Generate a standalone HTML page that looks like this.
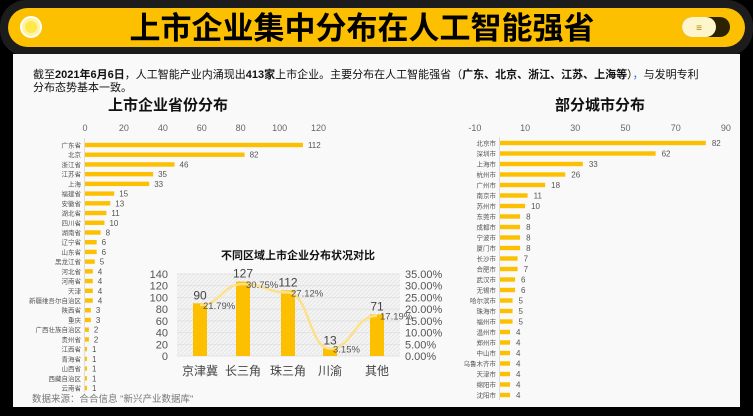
<!DOCTYPE html>
<html><head><meta charset="utf-8"><style>
html,body{margin:0;padding:0;background:#000;}
svg{display:block;font-family:"Liberation Sans","Noto Sans CJK SC",sans-serif;}
</style></head><body>
<svg id="s" width="753" height="416" viewBox="0 0 753 416" xmlns="http://www.w3.org/2000/svg">
<rect width="753" height="416" fill="#000"/>
<rect x="0" y="0" width="753" height="56" rx="26" fill="#1c1c1c"/>
<rect x="8" y="8" width="737" height="39" rx="19.5" fill="#fcc000"/>
<circle cx="31" cy="27" r="10" fill="#fff3a0" stroke="#fff" stroke-width="2"/>
<circle cx="31" cy="27" r="6" fill="#ffe84a"/>
<rect x="682" y="17" width="48" height="20" rx="10" fill="#2a2200"/>
<rect x="682" y="17" width="34" height="20" rx="10" fill="#fff5cc"/>
<text x="699" y="31" font-size="10" fill="#a88a00" text-anchor="middle">≡</text>
<text x="362" y="39" font-size="31" font-weight="bold" text-anchor="middle" fill="#000">上市企业集中分布在人工智能强省</text>
<rect x="13" y="54" width="727" height="353" fill="#f9f9f9"/>
<text x="33" y="78" font-size="11" fill="#111">截至<tspan font-weight="bold">2021年6月6日</tspan>，人工智能产业内涌现出<tspan font-weight="bold">413家</tspan>上市企业。主要分布在人工智能强省（<tspan font-weight="bold">广东、北京、浙江、江苏、上海等</tspan>）<tspan fill="#3b6fd8">，</tspan>与发明专利</text>
<text x="33" y="91" font-size="11" fill="#111">分布态势基本一致。</text>
<text x="168" y="110" font-size="15" font-weight="bold" text-anchor="middle" fill="#111">上市企业省份分布</text>
<text x="600" y="110" font-size="15" font-weight="bold" text-anchor="middle" fill="#111">部分城市分布</text>
<text x="32" y="402" font-size="9.5" fill="#777">数据来源：合合信息 "新兴产业数据库"</text>
<g id="g"></g>
</svg>
<script>
var g=document.getElementById('g'),h='';
function t(x,y,s,sz,a,c,w){h+='<text x="'+x+'" y="'+y+'" font-size="'+sz+'" text-anchor="'+(a||'start')+'" fill="'+(c||'#555')+'"'+(w?' font-weight="bold"':'')+'>'+s+'</text>';}
// left chart
var L=[["广东省",112],["北京",82],["浙江省",46],["江苏省",35],["上海",33],["福建省",15],["安徽省",13],["湖北省",11],["四川省",10],["湖南省",8],["辽宁省",6],["山东省",6],["黑龙江省",5],["河北省",4],["河南省",4],["天津",4],["新疆维吾尔自治区",4],["陕西省",3],["重庆",3],["广西壮族自治区",2],["贵州省",2],["江西省",1],["青海省",1],["山西省",1],["西藏自治区",1],["云南省",1]];
var x0=85,k=1.946;
for(var i=0;i<=6;i++)t(x0+i*20*k,131,i*20,9,'middle','#666');
h+='<line x1="84.5" y1="138" x2="84.5" y2="392" stroke="#ddd"/>';
L.forEach(function(d,i){var y=145+i*9.72;h+='<rect x="'+x0+'" y="'+(y-2.2)+'" width="'+(d[1]*k)+'" height="4.4" fill="#fcc000"/>';t(81,y+2.5,d[0],6.5,'end','#555');t(x0+d[1]*k+5,y+3,d[1],8,'start','#555');});
// right chart
var R=[["北京市",82],["深圳市",62],["上海市",33],["杭州市",26],["广州市",18],["南京市",11],["苏州市",10],["东莞市",8],["成都市",8],["宁波市",8],["厦门市",8],["长沙市",7],["合肥市",7],["武汉市",6],["无锡市",6],["哈尔滨市",5],["珠海市",5],["福州市",5],["温州市",4],["郑州市",4],["中山市",4],["乌鲁木齐市",4],["天津市",4],["绵阳市",4],["沈阳市",4]];
var r0=500,rk=2.51;
[-10,10,30,50,70,90].forEach(function(v){t(r0+v*rk,131,v,9,'middle','#666');});
h+='<line x1="499.5" y1="137" x2="499.5" y2="400" stroke="#ddd"/>';
R.forEach(function(d,i){var y=143+i*10.5;h+='<rect x="'+r0+'" y="'+(y-2.2)+'" width="'+(d[1]*rk)+'" height="4.4" fill="#fcc000"/>';t(496,y+2.5,d[0],6.5,'end','#555');t(r0+d[1]*rk+6,y+3,d[1],8,'start','#555');});
// combo chart
var px0=177,px1=400,py0=356,py1=274,sc=(py0-py1)/140;
h+='<defs><pattern id="p" width="4" height="4" patternUnits="userSpaceOnUse"><rect width="4" height="4" fill="#f4f4f4"/><path d="M0 4L4 0" stroke="#e6e6e6" stroke-width="1"/></pattern></defs>';
h+='<rect x="'+px0+'" y="'+py1+'" width="'+(px1-px0)+'" height="'+(py0-py1)+'" fill="url(#p)"/>';
for(var v=0;v<=140;v+=20){var y=py0-v*sc;h+='<line x1="'+px0+'" y1="'+y+'" x2="'+px1+'" y2="'+y+'" stroke="#ddd" stroke-width="0.7"/>';t(168,y+4,v,11,'end','#555');t(405,y+4,(v/4).toFixed(2)+'%',11,'start','#555');}
t(298,259,'不同区域上市企业分布状况对比',11,'middle','#111',1);
var C=[["京津冀",90,"21.79%",200],["长三角",127,"30.75%",243],["珠三角",112,"27.12%",288],["川渝",13,"3.15%",330],["其他",71,"17.19%",377]];
var pts=[];
C.forEach(function(d){var y=py0-d[1]*sc;h+='<rect x="'+(d[3]-7)+'" y="'+y+'" width="14" height="'+(d[1]*sc)+'" fill="#fcc000"/>';t(d[3],y-4,d[1],12,'middle','#444');t(d[3],375,d[0],12,'middle','#444');pts.push([d[3],py0-parseFloat(d[2])/35*(py0-py1),d[2]]);});
var p='M'+pts[0][0]+' '+pts[0][1];
for(var i=1;i<pts.length;i++){var a=pts[i-1],b=pts[i],m=(b[0]-a[0])/2;p+=' C'+(a[0]+m)+' '+a[1]+' '+(b[0]-m)+' '+b[1]+' '+b[0]+' '+b[1];}
h+='<path d="'+p+'" fill="none" stroke="#fde08a" stroke-width="2.5"/>';
pts.forEach(function(q){t(q[0]+3,q[1]+4,q[2],9.5,'start','#555');});
g.innerHTML=h;
</script>
</body></html>
